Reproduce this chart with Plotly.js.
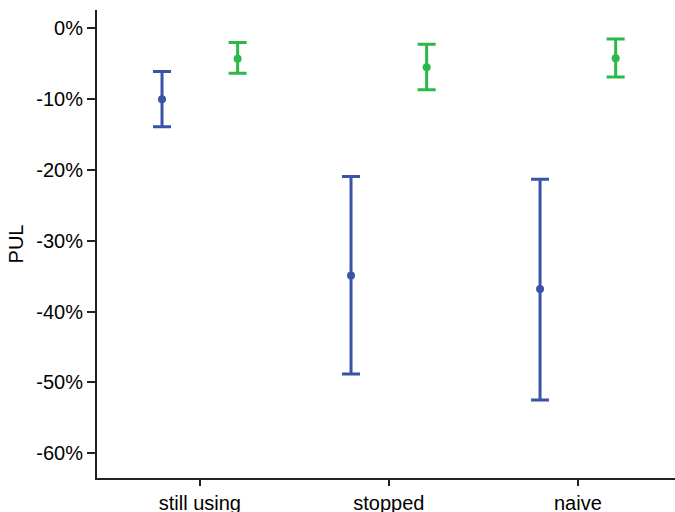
<!DOCTYPE html>
<html>
<head>
<meta charset="utf-8">
<script src="https://cdn.plot.ly/plotly-3.0.1.min.js"></script>
<style>html,body{margin:0;padding:0;background:#fff;}#chart{width:675px;height:512px;}</style>
</head>
<body>
<div id="chart"></div>
<script>
var categories = ["still using", "stopped", "naive"];
var blueMean  = [-0.100, -0.349, -0.368];
var blueUpper = [-0.061, -0.209, -0.213];
var blueLower = [-0.139, -0.488, -0.525];
var greenMean  = [-0.043, -0.055, -0.042];
var greenUpper = [-0.020, -0.0225, -0.015];
var greenLower = [-0.0635, -0.0866, -0.0686];
var yTickVals = [0, -0.1, -0.2, -0.3, -0.4, -0.5, -0.6];
var yTickText = ["0%", "-10%", "-20%", "-30%", "-40%", "-50%", "-60%"];

var blueColor = "#3A53A8";
var greenColor = "#2DB84A";
var offset = 0.2;

function pos(off) { return categories.map(function(_, i){ return i + off; }); }
function plus(mean, up) { return mean.map(function(m, i){ return up[i] - m; }); }
function minus(mean, lo) { return mean.map(function(m, i){ return m - lo[i]; }); }

var traces = [
  {
    x: pos(-offset), y: blueMean, type: "scatter", mode: "markers",
    marker: {color: blueColor, size: 8},
    error_y: {type: "data", symmetric: false, array: plus(blueMean, blueUpper), arrayminus: minus(blueMean, blueLower),
              color: blueColor, thickness: 3, width: 9},
    showlegend: false, hoverinfo: "none"
  },
  {
    x: pos(offset), y: greenMean, type: "scatter", mode: "markers",
    marker: {color: greenColor, size: 8},
    error_y: {type: "data", symmetric: false, array: plus(greenMean, greenUpper), arrayminus: minus(greenMean, greenLower),
              color: greenColor, thickness: 3, width: 9},
    showlegend: false, hoverinfo: "none"
  }
];

var layout = {
  width: 675, height: 512,
  margin: {l: 97, r: 0, t: 10, b: 34},
  paper_bgcolor: "#fff", plot_bgcolor: "#fff",
  font: {family: "Liberation Sans, Arial, sans-serif", size: 20, color: "#000"},
  showlegend: false,
  xaxis: {
    range: [-0.544, 2.514], tickvals: [0, 1, 2], ticktext: categories,
    showgrid: false, zeroline: false, showline: true, linecolor: "#222", linewidth: 2,
    ticks: "outside", ticklen: 6, tickwidth: 2, tickcolor: "#222",
    tickfont: {size: 20, color: "#000"}, fixedrange: true
  },
  yaxis: {
    range: [-0.635, 0.026], tickvals: yTickVals, ticktext: yTickText,
    showgrid: false, zeroline: false, showline: true, linecolor: "#222", linewidth: 2,
    ticks: "outside", ticklen: 8, tickwidth: 2, tickcolor: "#222",
    tickfont: {size: 20, color: "#000"},
    title: {text: "PUL", font: {size: 20, color: "#000"}, standoff: 7}, fixedrange: true
  }
};

Plotly.newPlot("chart", traces, layout, {displayModeBar: false, staticPlot: true});
</script>
</body>
</html>
